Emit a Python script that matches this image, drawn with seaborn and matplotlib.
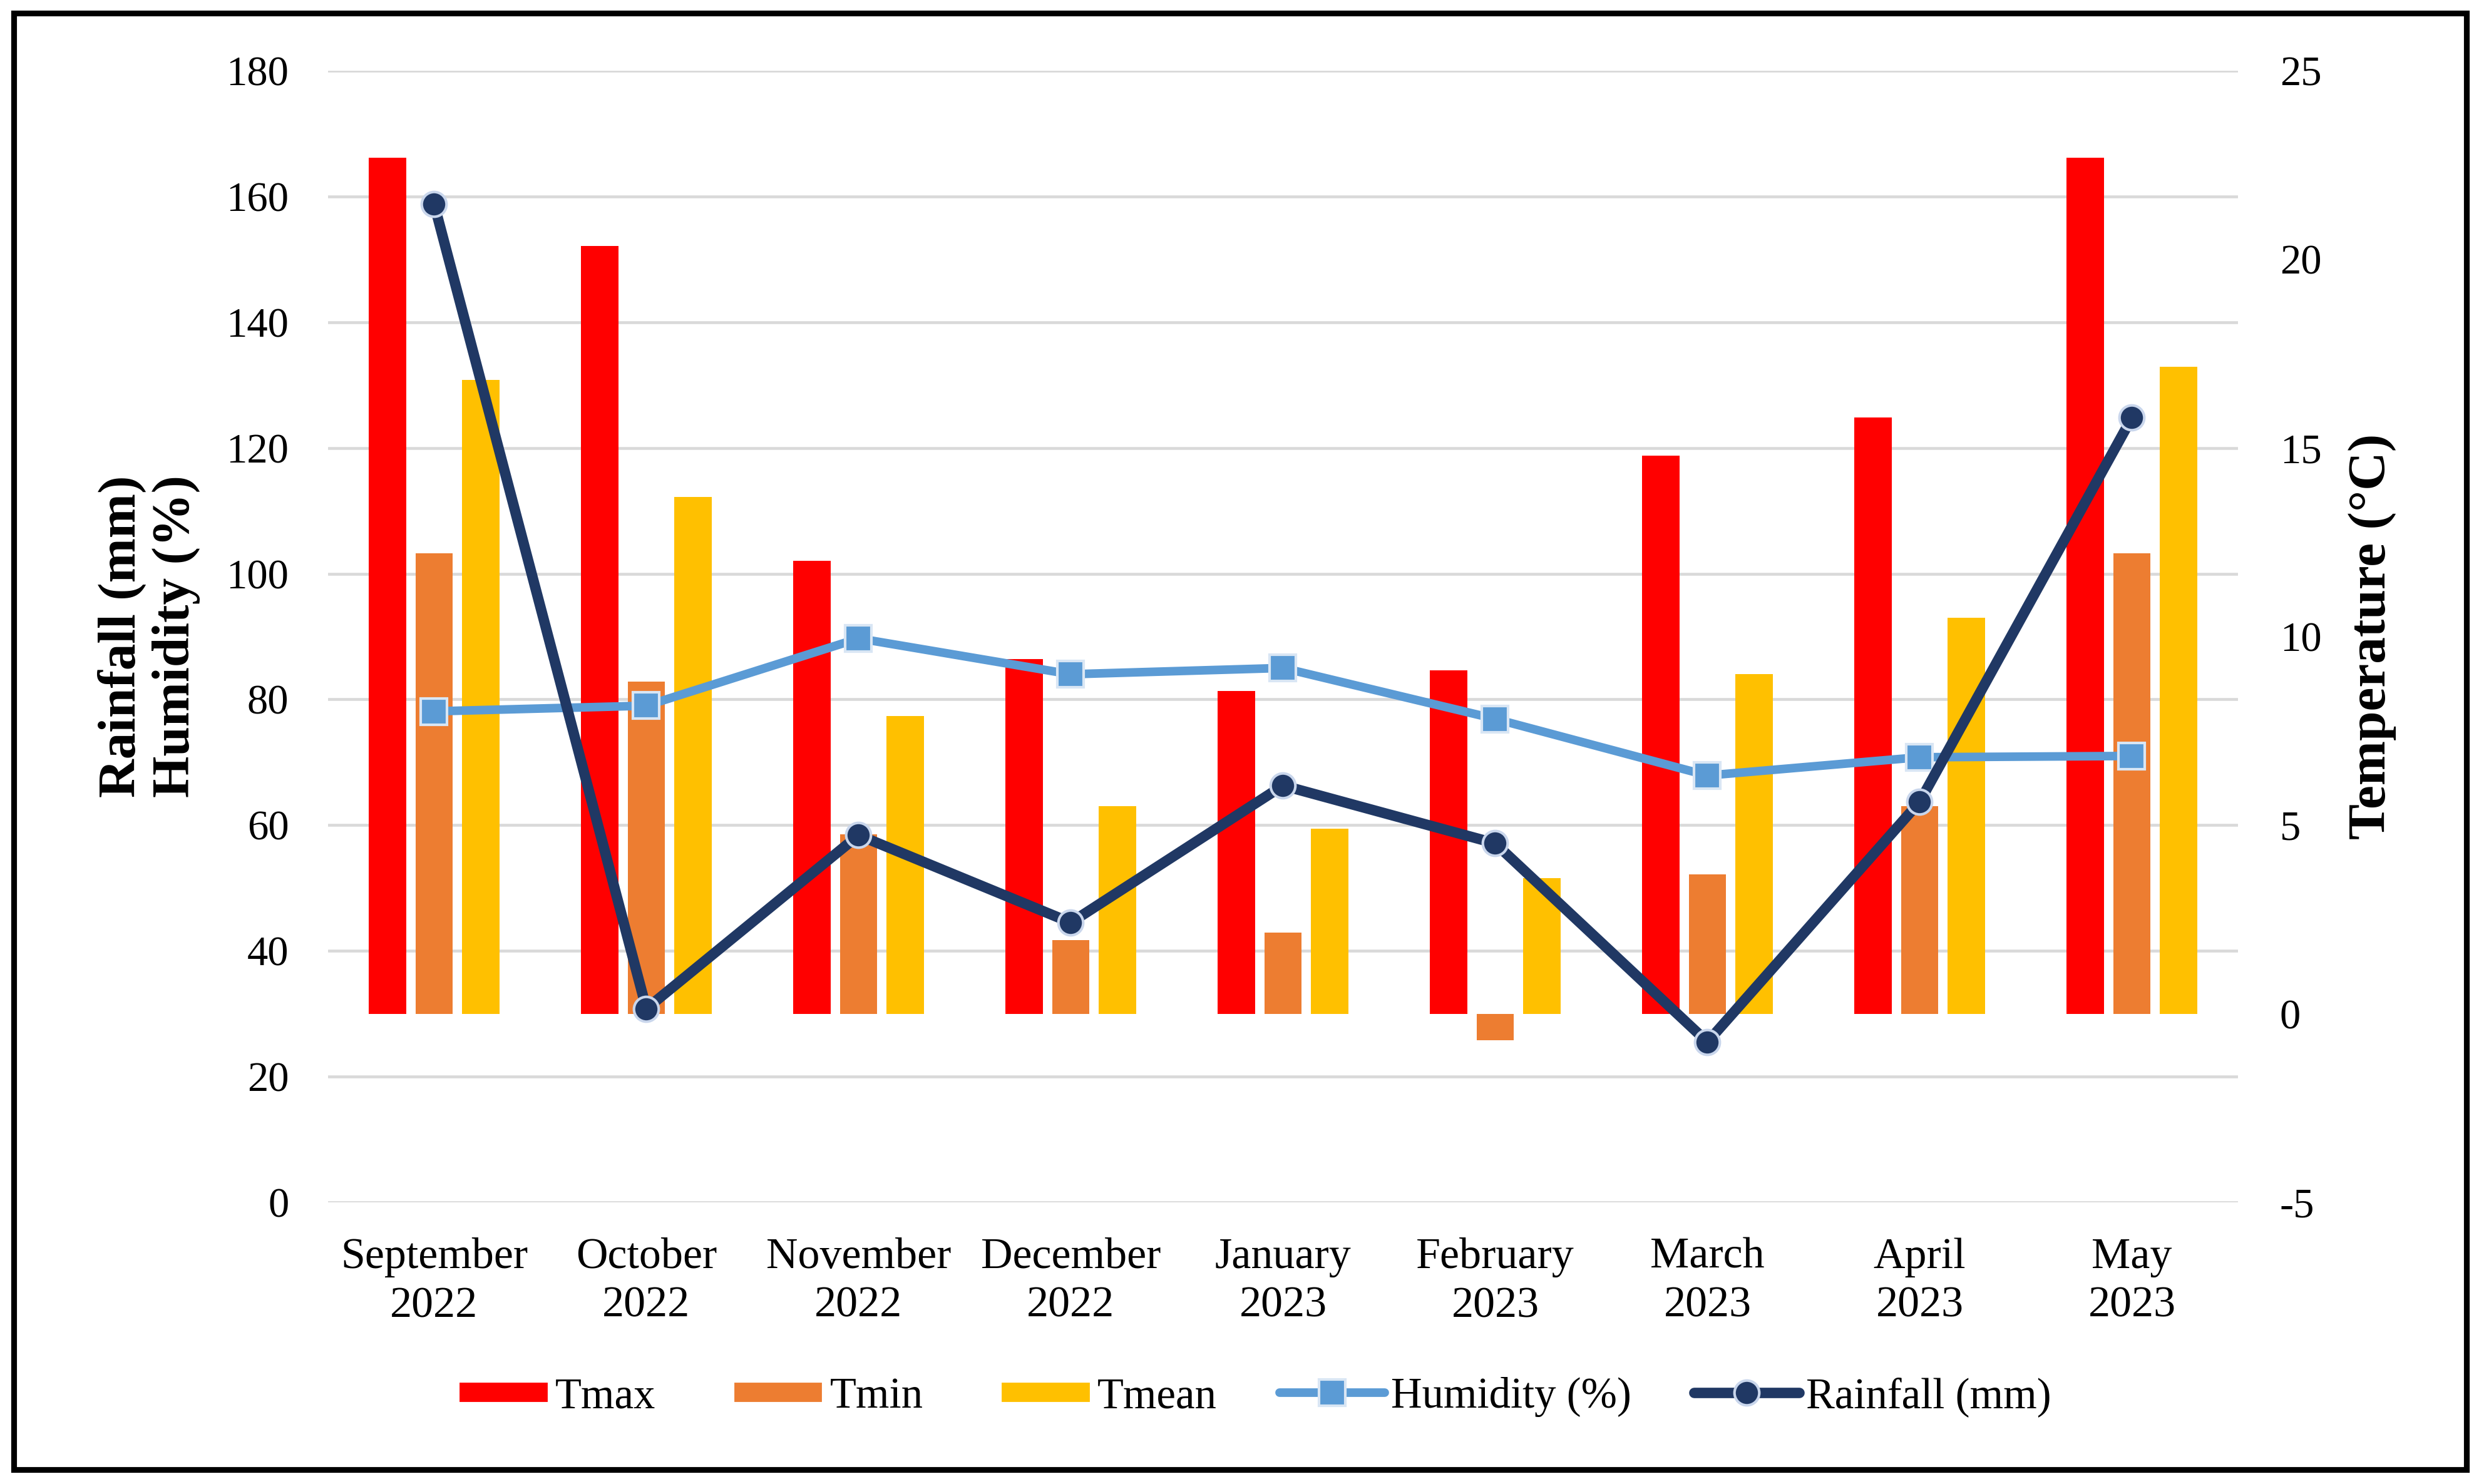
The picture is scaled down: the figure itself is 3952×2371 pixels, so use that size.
import numpy as np
import pandas as pd
import matplotlib
matplotlib.use("Agg")
import matplotlib.pyplot as plt
import seaborn as sns
from matplotlib.patches import Patch, Rectangle
from matplotlib.lines import Line2D
from matplotlib.legend_handler import HandlerPatch
from matplotlib.ticker import FixedLocator

# ---------------- data ----------------
months = ["September\n2022", "October\n2022", "November\n2022", "December\n2022",
          "January\n2023", "February\n2023", "March\n2023", "April\n2023", "May\n2023"]
tmax = [22.7, 20.35, 12.0, 9.4, 8.55, 9.1, 14.8, 15.8, 22.7]
tmin = [12.2, 8.8, 4.75, 1.95, 2.15, -0.7, 3.7, 5.5, 12.2]
tmean = [16.8, 13.7, 7.9, 5.5, 4.9, 3.6, 9.0, 10.5, 17.15]
humidity = [78.1, 79.0, 89.7, 84.0, 85.0, 76.9, 67.9, 70.8, 71.0]
rainfall = [158.8, 30.8, 58.4, 44.5, 66.3, 57.1, 25.5, 63.7, 124.8]

left_ticks = list(range(0, 181, 20))
right_ticks = list(range(-5, 26, 5))

c_tmax, c_tmin, c_tmean = "#FF0000", "#ED7D31", "#FFC000"
c_hum, c_rain = "#5B9BD5", "#203864"

# ---------------- style ----------------
sns.set_theme(style="white")
plt.rcParams["font.family"] = ["Liberation Serif", "DejaVu Serif"]
plt.rcParams["text.color"] = "#000000"
plt.rcParams["axes.unicode_minus"] = False

W, H, DPI = 3953, 2371, 300
fig = plt.figure(figsize=(W / DPI, H / DPI), dpi=DPI, facecolor="white")
x0, x1 = 524 / W, 3575 / W
y0, y1 = 1 - 1921 / H, 1 - 113 / H
ax = fig.add_axes([x0, y0, x1 - x0, y1 - y0])
axt = ax.twinx()

# bars (temperature, right axis)
df = pd.DataFrame({
    "month": months * 3,
    "var": ["Tmax"] * 9 + ["Tmin"] * 9 + ["Tmean"] * 9,
    "val": tmax + tmin + tmean,
})
sns.barplot(data=df, x="month", y="val", hue="var", order=months,
            hue_order=["Tmax", "Tmin", "Tmean"],
            palette=[c_tmax, c_tmin, c_tmean], saturation=1,
            width=0.663, gap=0.2, errorbar=None, linewidth=0,
            legend=False, ax=axt)

# lines (rainfall/humidity, left axis)
hum_style = dict(color=c_hum, linewidth=3.3, marker="s", markersize=10,
                 markeredgecolor="#D9E6F4", markeredgewidth=1.0)
rain_style = dict(color=c_rain, linewidth=4.0, marker="o", markersize=9.5,
                  markeredgecolor="#C9D6EC", markeredgewidth=1.0)
sns.lineplot(x=months, y=humidity, ax=ax, sort=False, zorder=3, **hum_style)
sns.lineplot(x=months, y=rainfall, ax=ax, sort=False, zorder=4, **rain_style)

# axes scales
ax.set_ylim(0, 180)
ax.set_yticks(left_ticks)
axt.set_ylim(-5, 25)
axt.set_yticks(right_ticks)
ax.set_xlim(-0.5, 8.5)

# gridlines drawn on the temperature axis (behind bars) at left-axis tick positions
lo, hi = axt.get_ylim()
grid_pos = [lo + v * (hi - lo) / 180 for v in left_ticks]
axt.yaxis.remove_overlapping_locs = False
axt.yaxis.set_minor_locator(FixedLocator(grid_pos))
axt.grid(which="minor", axis="y", color="#D9D9D9", linewidth=1.1)
axt.grid(which="major", visible=False)
axt.set_axisbelow(True)
ax.grid(False)

ax.set_zorder(axt.get_zorder() + 1)
ax.patch.set_visible(False)

for a in (ax, axt):
    for s in a.spines.values():
        s.set_visible(False)
    a.set_xlabel("")
    a.set_ylabel("")

ax.set_xticks(range(len(months)))
ax.set_xticklabels(months, fontsize=16.8, linespacing=1.3)
ax.tick_params(axis="x", length=0, pad=13.5, colors="#000000")
ax.tick_params(axis="y", length=0, pad=15, labelsize=16, colors="#000000")
axt.tick_params(axis="y", which="both", length=0, pad=16, labelsize=16, colors="#000000")

# axis titles
fig.text(238 / W, (y0 + y1) / 2, "Rainfall (mm)\nHumidity (%)", rotation=90,
         ha="center", va="center", multialignment="center",
         fontsize=20.5, fontweight="bold", linespacing=1.15)
fig.text(3790 / W, (y0 + y1) / 2, "Temperature (\u00b0C)", rotation=90,
         ha="center", va="center", fontsize=20.5, fontweight="bold")

# legend
def narrow_patch(legend, orig_handle, xdescent, ydescent, width, height, fontsize):
    pw, ph = width * 0.86, 8.4
    return Rectangle((-xdescent + width - pw, -ydescent + (height - ph) / 2), pw, ph)

handles = [
    Patch(facecolor=c_tmax, label="Tmax"),
    Patch(facecolor=c_tmin, label="Tmin"),
    Patch(facecolor=c_tmean, label="Tmean"),
    Line2D([], [], label="Humidity (%)", **hum_style),
    Line2D([], [], label="Rainfall (mm)", **rain_style),
]
fig.legend(handles=handles, loc="center", bbox_to_anchor=(0.504, 1 - 2232 / H),
           ncol=5, frameon=False, fontsize=16.5, handlelength=2.45,
           handleheight=0.7, handletextpad=0.15, columnspacing=1.45,
           handler_map={Patch: HandlerPatch(patch_func=narrow_patch)})

# outer frame
fig.add_artist(Rectangle((22 / W, 1 - 2348 / H), (3940 - 22) / W, (2348 - 21) / H,
                         transform=fig.transFigure, fill=False,
                         edgecolor="#000000", linewidth=2.2))

fig.savefig("out.png", dpi=DPI, facecolor="white")
